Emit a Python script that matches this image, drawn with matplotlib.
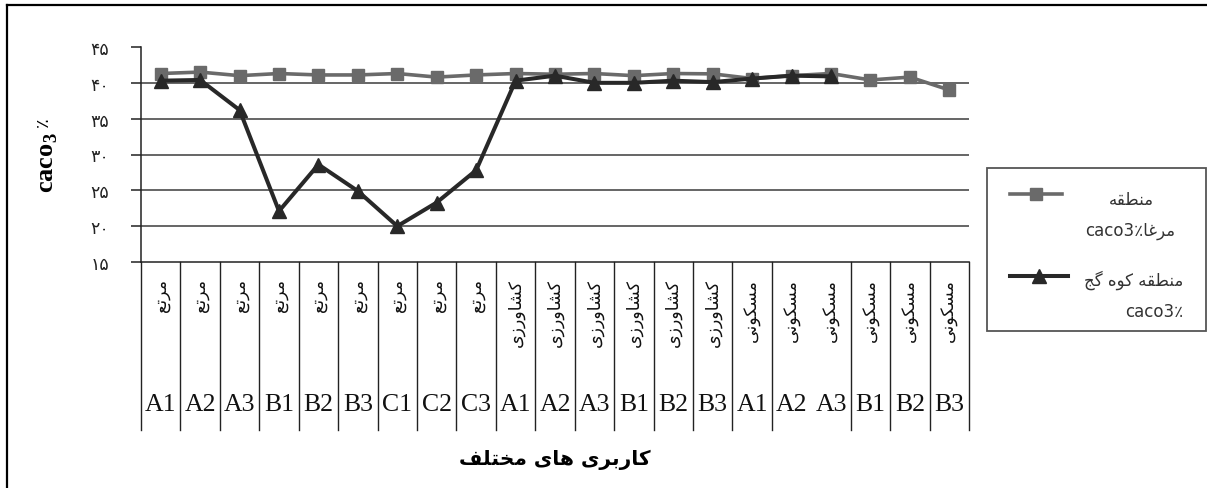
import numpy as np
import matplotlib
matplotlib.use("Agg")
import matplotlib.pyplot as plt
from matplotlib.lines import Line2D
from matplotlib.patches import Rectangle
import matplotlib.transforms as mtransforms

# ---- data -------------------------------------------------------------
land_use = ['مرتع'] * 9 + ['کشاورزی'] * 6 + ['مسکونی'] * 6
site_codes = ['A1', 'A2', 'A3', 'B1', 'B2', 'B3', 'C1', 'C2', 'C3',
              'A1', 'A2', 'A3', 'B1', 'B2', 'B3',
              'A1', 'A2', 'A3', 'B1', 'B2', 'B3']
caco3_marga = [41.3, 41.5, 41.0, 41.3, 41.1, 41.1, 41.3, 40.8, 41.1, 41.3,
               41.2, 41.3, 41.0, 41.3, 41.25, 40.6, 41.0, 41.3, 40.4, 40.8, 39.0]
caco3_kuhgach = [40.3, 40.4, 36.2, 22.1, 28.6, 24.9, 20.0, 23.3, 27.8, 40.3,
                 41.0, 40.0, 40.0, 40.3, 40.1, 40.6, 41.0, 40.9]
y_ticks = [15, 20, 25, 30, 35, 40, 45]
x_title = 'کاربری های مختلف'
legend_region1 = ('منطقه', 'مرغا')
legend_region2 = 'منطقه کوه گج'

# ---- simple Persian shaping (presentation forms, visual order) --------
FORMS = {
    'ا': ('\uFE8D', '\uFE8E'), 'ر': ('\uFEAD', '\uFEAE'),
    'ز': ('\uFEAF', '\uFEB0'), 'و': ('\uFEED', '\uFEEE'),
    'ب': ('\uFE8F', '\uFE90', '\uFE91', '\uFE92'),
    'ت': ('\uFE95', '\uFE96', '\uFE97', '\uFE98'),
    'ج': ('\uFE9D', '\uFE9E', '\uFE9F', '\uFEA0'),
    'خ': ('\uFEA5', '\uFEA6', '\uFEA7', '\uFEA8'),
    'س': ('\uFEB1', '\uFEB2', '\uFEB3', '\uFEB4'),
    'ش': ('\uFEB5', '\uFEB6', '\uFEB7', '\uFEB8'),
    'ط': ('\uFEC1', '\uFEC2', '\uFEC3', '\uFEC4'),
    'ع': ('\uFEC9', '\uFECA', '\uFECB', '\uFECC'),
    'غ': ('\uFECD', '\uFECE', '\uFECF', '\uFED0'),
    'ف': ('\uFED1', '\uFED2', '\uFED3', '\uFED4'),
    'ق': ('\uFED5', '\uFED6', '\uFED7', '\uFED8'),
    'ک': ('\uFB8E', '\uFB8F', '\uFB90', '\uFB91'),
    'گ': ('\uFB92', '\uFB93', '\uFB94', '\uFB95'),
    'ل': ('\uFEDD', '\uFEDE', '\uFEDF', '\uFEE0'),
    'م': ('\uFEE1', '\uFEE2', '\uFEE3', '\uFEE4'),
    'ن': ('\uFEE5', '\uFEE6', '\uFEE7', '\uFEE8'),
    'ه': ('\uFEE9', '\uFEEA', '\uFEEB', '\uFEEC'),
    'ی': ('\uFBFC', '\uFBFD', '\uFBFE', '\uFBFF'),
}


def fa(text):
    out = []
    for k, c in enumerate(text):
        if c not in FORMS:
            out.append(c)
            continue
        prev = text[k - 1] if k > 0 else ''
        nxt = text[k + 1] if k + 1 < len(text) else ''
        jp = prev in FORMS and len(FORMS[prev]) == 4
        jn = nxt in FORMS and len(FORMS[c]) == 4
        f = FORMS[c]
        if jp and jn:
            out.append(f[3])
        elif jp:
            out.append(f[1])
        elif jn:
            out.append(f[2])
        else:
            out.append(f[0])
    return ''.join(out)[::-1]


def fa_digits(n):
    return str(n).translate(str.maketrans('0123456789', '۰۱۲۳۴۵۶۷۸۹'))


# ---- figure -----------------------------------------------------------
W, H = 1207, 489
fig = plt.figure(figsize=(W / 100, H / 100), dpi=100)
fig.patch.set_facecolor('white')


def fx(px):
    return px / W


def fy(py):
    return 1 - py / H


ax = fig.add_axes([fx(141), fy(263), fx(969) - fx(141), fy(48) - fy(263)])
n = len(site_codes)
x = np.arange(n)
ax.set_xlim(-0.5, n - 0.5)
ax.set_ylim(15, 45)

grey = '#6a6a6a'
dark = '#282828'
ax.plot(np.arange(len(caco3_marga)), caco3_marga, color=grey, lw=2.6,
        marker='s', ms=8.8, mec=grey, mfc=grey, zorder=3,
        solid_joinstyle='miter')
ax.plot(np.arange(len(caco3_kuhgach)), caco3_kuhgach, color=dark, lw=2.9,
        marker='^', ms=9.8, mec=dark, mfc=dark, zorder=4,
        solid_joinstyle='miter')

# horizontal grid lines
for v in y_ticks[1:-1]:
    ax.axhline(v, color='#3c3c3c', lw=1.1, zorder=1)

for s in ['top', 'right']:
    ax.spines[s].set_visible(False)
ax.spines['left'].set_color('#222222')
ax.spines['left'].set_linewidth(1.1)
ax.spines['bottom'].set_color('#222222')
ax.spines['bottom'].set_linewidth(1.1)

ax.set_yticks(y_ticks)
ax.set_yticklabels([fa_digits(v) for v in y_ticks],
                   family=['DejaVu Sans'], fontsize=12.5, color='#222222')
ax.tick_params(axis='y', direction='out', length=7, width=1.1,
               color='#222222', pad=16)
ax.set_xticks([])

# category table below the axis
trans = mtransforms.blended_transform_factory(ax.transData, ax.transAxes)
y_bottom = (263 - 431) / 215
for k in range(n + 1):
    if k == 17:
        continue
    ax.add_line(Line2D([k - 0.5, k - 0.5], [0, y_bottom], transform=trans,
                       color='#222222', lw=1.0, clip_on=False))
for i in range(n):
    ax.text(i, (263 - 279) / 215, fa(land_use[i]), transform=trans,
            rotation=90, ha='center', va='top', fontsize=12.5,
            family='DejaVu Sans', color='#111111')
    ax.text(i, (263 - 405) / 215, site_codes[i], transform=trans,
            ha='center', va='center', fontsize=18.5,
            family='Liberation Serif', color='#111111')

# axis titles
fig.text(fx(555), fy(460), fa(x_title), ha='center', va='center',
         fontsize=14.5, fontweight='bold', family='DejaVu Sans')
plt.rcParams['mathtext.fontset'] = 'custom'
plt.rcParams['mathtext.bf'] = 'Liberation Serif:bold'
plt.rcParams['mathtext.rm'] = 'Liberation Serif'
fig.text(fx(47), fy(163), r'$\mathbf{caco}_{\mathbf{3}}$', rotation=90,
         ha='center', va='center', fontsize=19)
fig.text(fx(43), fy(122), '٪', rotation=90, ha='center', va='center',
         fontsize=13, family='DejaVu Sans')

# legend
fig.add_artist(Rectangle((fx(987), fy(332)), fx(1206) - fx(987),
                         fy(169) - fy(332), transform=fig.transFigure,
                         fill=False, ec='#555555', lw=1.3))
fig.add_artist(Line2D([fx(1010), fx(1062)], [fy(195), fy(195)],
                      transform=fig.transFigure, color=grey, lw=2.6))
fig.add_artist(Line2D([fx(1036)], [fy(195)], transform=fig.transFigure,
                      marker='s', ms=8.8, color=grey, lw=0))
fig.add_artist(Line2D([fx(1010), fx(1068)], [fy(277), fy(277)],
                      transform=fig.transFigure, color=dark, lw=2.9))
fig.add_artist(Line2D([fx(1039)], [fy(277)], transform=fig.transFigure,
                      marker='^', ms=9.8, color=dark, lw=0))
leg_font = dict(fontsize=12, family='DejaVu Sans', color='#333333')
fig.text(fx(1131), fy(200), fa(legend_region1[0]), ha='center', va='center',
         **leg_font)
fig.text(fx(1175), fy(231), 'caco3٪' + fa(legend_region1[1]), ha='right',
         va='center', **leg_font)
fig.text(fx(1183), fy(280), fa(legend_region2), ha='right', va='center',
         **leg_font)
fig.text(fx(1183), fy(312), 'caco3٪', ha='right', va='center', **leg_font)

# outer frame (top and left edges)
fig.add_artist(Line2D([fx(7), fx(1207)], [fy(6), fy(6)],
                      transform=fig.transFigure, color='black', lw=1.6))
fig.add_artist(Line2D([fx(7), fx(7)], [fy(6), fy(489)],
                      transform=fig.transFigure, color='black', lw=1.6))

fig.savefig('out.png', dpi=100)
